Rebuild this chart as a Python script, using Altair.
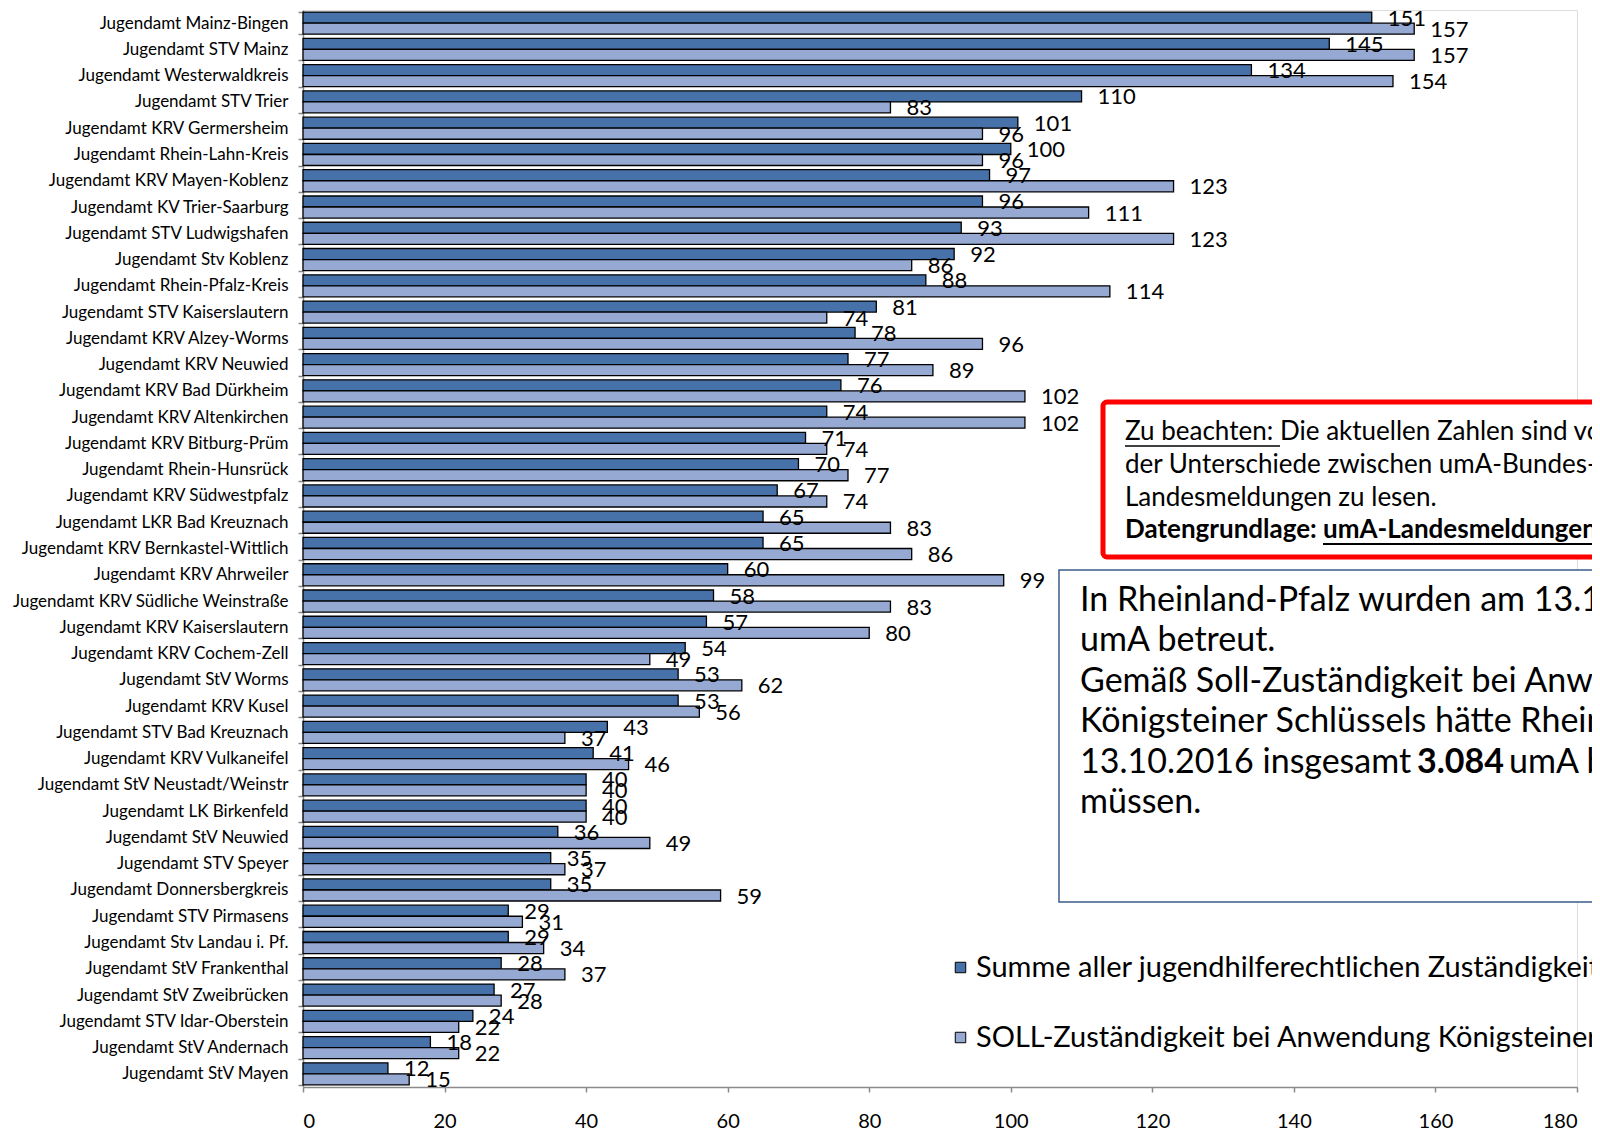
import altair as alt
import pandas as pd

categories = [
    "Jugendamt Mainz-Bingen", "Jugendamt STV Mainz", "Jugendamt Westerwaldkreis",
    "Jugendamt STV Trier", "Jugendamt KRV Germersheim", "Jugendamt Rhein-Lahn-Kreis",
    "Jugendamt KRV Mayen-Koblenz", "Jugendamt KV Trier-Saarburg", "Jugendamt STV Ludwigshafen",
    "Jugendamt Stv Koblenz", "Jugendamt Rhein-Pfalz-Kreis", "Jugendamt STV Kaiserslautern",
    "Jugendamt KRV Alzey-Worms", "Jugendamt KRV Neuwied", "Jugendamt KRV Bad Dürkheim",
    "Jugendamt KRV Altenkirchen", "Jugendamt KRV Bitburg-Prüm", "Jugendamt Rhein-Hunsrück",
    "Jugendamt KRV Südwestpfalz", "Jugendamt LKR Bad Kreuznach", "Jugendamt KRV Bernkastel-Wittlich",
    "Jugendamt KRV Ahrweiler", "Jugendamt KRV Südliche Weinstraße", "Jugendamt KRV Kaiserslautern",
    "Jugendamt KRV Cochem-Zell", "Jugendamt StV Worms", "Jugendamt KRV Kusel",
    "Jugendamt STV Bad Kreuznach", "Jugendamt KRV Vulkaneifel", "Jugendamt StV Neustadt/Weinstr",
    "Jugendamt LK Birkenfeld", "Jugendamt StV Neuwied", "Jugendamt STV Speyer",
    "Jugendamt Donnersbergkreis", "Jugendamt STV Pirmasens", "Jugendamt Stv Landau i. Pf.",
    "Jugendamt StV Frankenthal", "Jugendamt StV Zweibrücken", "Jugendamt STV Idar-Oberstein",
    "Jugendamt StV Andernach", "Jugendamt StV Mayen",
]
summe = [151, 145, 134, 110, 101, 100, 97, 96, 93, 92, 88, 81, 78, 77, 76, 74, 71, 70, 67, 65, 65,
         60, 58, 57, 54, 53, 53, 43, 41, 40, 40, 36, 35, 35, 29, 29, 28, 27, 24, 18, 12]
soll = [157, 157, 154, 83, 96, 96, 123, 111, 123, 86, 114, 74, 96, 89, 102, 102, 74, 77, 74, 83, 86,
        99, 83, 80, 49, 62, 56, 37, 46, 40, 40, 49, 37, 59, 31, 34, 37, 28, 22, 22, 15]
series_names = [
    "Summe aller jugendhilferechtlichen Zuständigkeiten",
    "SOLL-Zuständigkeit bei Anwendung Königsteiner Schlüssel",
]
series_colors = ["#4672A9", "#95A9D2"]
x_ticks = [0, 20, 40, 60, 80, 100, 120, 140, 160, 180]

rows = []
for c, a, b in zip(categories, summe, soll):
    rows.append({"cat": c, "series": series_names[0], "value": a})
    rows.append({"cat": c, "series": series_names[1], "value": b})
df = pd.DataFrame(rows)

FONT = "Lato"
W, H = 1274, 1077

x_axis = alt.Axis(title=None, values=x_ticks, grid=False, labelFont=FONT,
                  labelFontSize=20, labelColor="black", tickSize=5,
                  tickColor="#8a8a8a", domainColor="#8a8a8a", domainWidth=1.5,
                  tickWidth=1.5, labelPadding=19)
x_scale = alt.Scale(domain=[0, 180], nice=False)

base = alt.Chart(df).encode(
    y=alt.Y("cat:N", sort=categories,
            scale=alt.Scale(paddingInner=0.16, paddingOuter=0.08),
            axis=alt.Axis(title=None, labelFont=FONT, labelFontSize=17, labelColor="black",
                          tickBand="extent", tickSize=5, tickColor="#8a8a8a",
                          domainColor="#8a8a8a", domainWidth=1.5, tickWidth=1.5,
                          labelPadding=10, labelLimit=400, grid=False)),
    yOffset=alt.YOffset("series:N", sort=series_names,
                        scale=alt.Scale(paddingInner=0, paddingOuter=0)),
)

bars = base.mark_bar(stroke="black", strokeWidth=1.3).encode(
    x=alt.X("value:Q", scale=x_scale, axis=x_axis),
    color=alt.Color("series:N", sort=series_names,
                    scale=alt.Scale(domain=series_names, range=series_colors),
                    legend=alt.Legend(title=None, orient="none", legendX=643, legendY=943,
                                      symbolType="square", symbolSize=110,
                                      symbolStrokeColor="black", symbolStrokeWidth=1,
                                      labelFont=FONT, labelFontSize=29, labelColor="black",
                                      labelLimit=2000, rowPadding=40, labelOffset=1)),
)

labels = base.mark_text(align="left", baseline="middle", dx=16, dy=1, font=FONT,
                        fontSize=22, color="black").encode(
    x=alt.X("value:Q", scale=x_scale, axis=x_axis),
    text=alt.Text("value:Q"),
)


def txt(s, x, y, size, bold=False):
    return alt.Chart(pd.DataFrame({"t": [s]})).mark_text(
        align="left", baseline="middle", font=FONT, fontSize=size,
        fontWeight="bold" if bold else "normal", color="black",
    ).encode(x=alt.value(x), y=alt.value(y), text="t:N")


def box(x1, y1, x2, y2, stroke, sw, radius=0):
    return alt.Chart(pd.DataFrame({"a": [0]})).mark_rect(
        fill="white", stroke=stroke, strokeWidth=sw, cornerRadius=radius,
    ).encode(x=alt.value(x1), x2=alt.value(x2), y=alt.value(y1), y2=alt.value(y2))


def uline(x1, x2, y, sw=1.6):
    return alt.Chart(pd.DataFrame({"a": [0]})).mark_rule(color="black", strokeWidth=sw).encode(
        x=alt.value(x1), x2=alt.value(x2), y=alt.value(y))


RED = 26
BLUE = 34
red_box = box(800, 392, 1400, 547, "#FF0000", 5, 4)
red_lines = [
    txt("Zu beachten:", 822, 422, RED),
    txt("Die aktuellen Zahlen sind vor dem Hintergrund", 977, 422, RED),
    uline(822, 977, 436),
    txt("der Unterschiede zwischen umA-Bundes- und", 822, 455, RED),
    txt("Landesmeldungen zu lesen.", 822, 488, RED),
    txt("Datengrundlage:", 822, 520, RED, True),
    txt("umA-Landesmeldungen", 1020, 520, RED, True),
    uline(1020, 1400, 534, 2),
]
blue_box = box(756, 560, 1400, 892, "#3B5E8C", 1.5)
blue_lines = [
    txt("In Rheinland-Pfalz wurden am 13.10.2016 insgesamt", 777, 591, BLUE),
    txt("umA betreut.", 777, 631, BLUE),
    txt("Gemäß Soll-Zuständigkeit bei Anwendung des", 777, 672, BLUE),
    txt("Königsteiner Schlüssels hätte Rheinland-Pfalz am", 777, 712, BLUE),
    txt("13.10.2016 insgesamt", 777, 753, BLUE),
    txt("3.084", 1114, 753, BLUE, True),
    txt("umA betreuen", 1206, 753, BLUE),
    txt("müssen.", 777, 793, BLUE),
]

chart = alt.layer(
    bars, labels, red_box, *red_lines, blue_box, *blue_lines
).properties(
    width=W, height=H,
    autosize=alt.AutoSizeParams(type="none"),
    padding={"left": 295, "top": 2, "right": 15, "bottom": 46},
).configure_view(
    stroke="transparent", strokeWidth=0
).configure_axis(grid=False).configure(background="white")

chart.save("out.html", embed_options={"renderer": "svg", "actions": False})
